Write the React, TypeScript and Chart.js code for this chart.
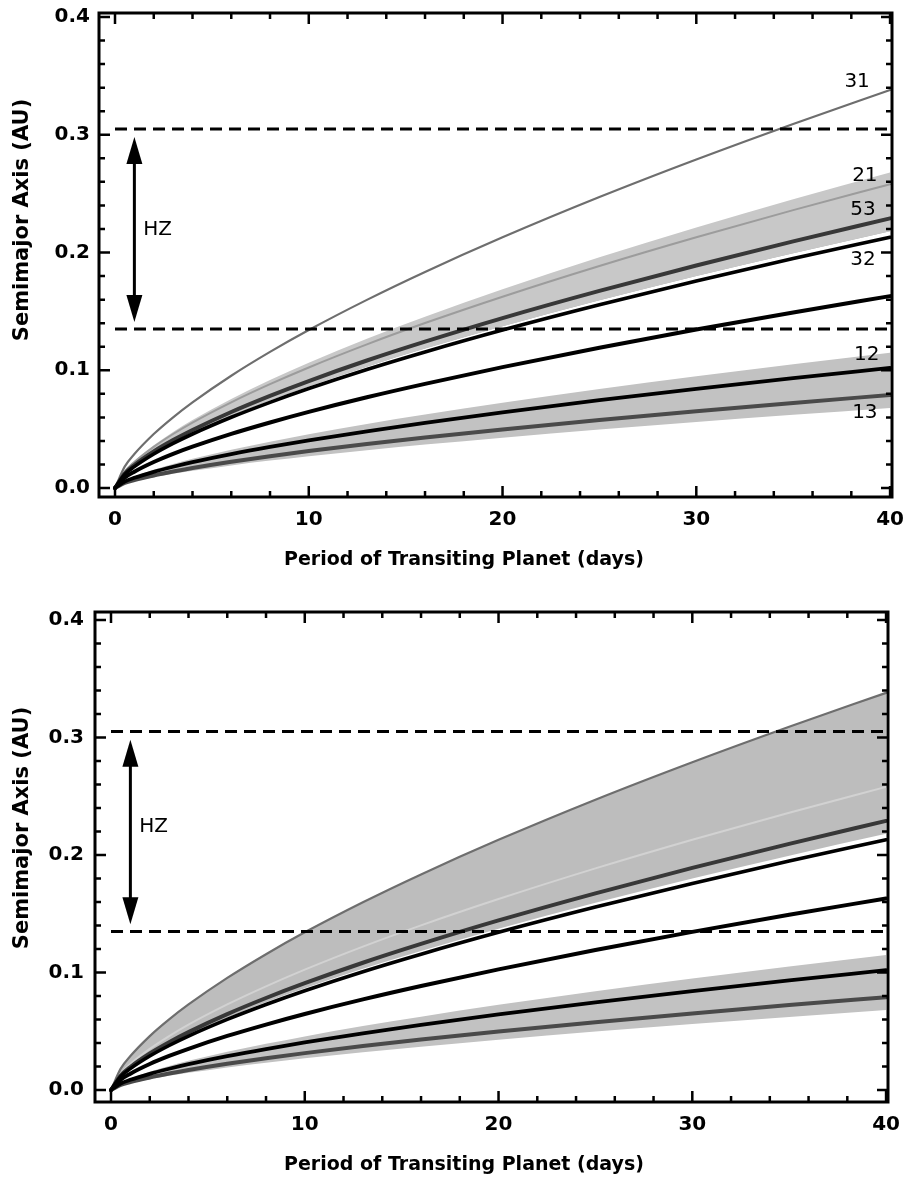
import React, { useEffect, useRef } from "react";
import { Chart, registerables } from "chart.js";

Chart.register(...registerables);

// ---------- data ----------
const PERIODS = [0, 0.5, 1, 2, 3, 4, 6, 8, 10, 13, 16, 20, 25, 30, 35, 40];

const A_31 = [0, 0.0182, 0.0289, 0.0459, 0.0601, 0.0728, 0.0954, 0.1156, 0.1342, 0.1598, 0.1835, 0.2129, 0.2471, 0.279, 0.3092, 0.338];
const A_21 = [0, 0.0139, 0.0221, 0.035, 0.0459, 0.0556, 0.0728, 0.0882, 0.1024, 0.122, 0.1401, 0.1625, 0.1886, 0.213, 0.236, 0.258];
const A_53 = [0, 0.0123, 0.0196, 0.0311, 0.0407, 0.0493, 0.0646, 0.0783, 0.0909, 0.1083, 0.1243, 0.1443, 0.1674, 0.189, 0.2095, 0.229];
const A_32 = [0, 0.0115, 0.0182, 0.0289, 0.0379, 0.0459, 0.0601, 0.0728, 0.0845, 0.1007, 0.1156, 0.1342, 0.1557, 0.1758, 0.1949, 0.213];
const A_MID = [0, 0.0088, 0.0139, 0.0221, 0.029, 0.0351, 0.046, 0.0557, 0.0647, 0.0771, 0.0885, 0.1027, 0.1192, 0.1346, 0.1491, 0.163];
const A_12 = [0, 0.0055, 0.0087, 0.0138, 0.0181, 0.022, 0.0288, 0.0349, 0.0405, 0.0482, 0.0554, 0.0643, 0.0746, 0.0842, 0.0933, 0.102];
const A_13 = [0, 0.0043, 0.0068, 0.0107, 0.014, 0.017, 0.0223, 0.027, 0.0314, 0.0374, 0.0429, 0.0498, 0.0577, 0.0652, 0.0723, 0.079];

const BAND_HI_TOP = [0, 0.0144, 0.0229, 0.0364, 0.0477, 0.0577, 0.0757, 0.0917, 0.1064, 0.1267, 0.1455, 0.1688, 0.1959, 0.2212, 0.2452, 0.268];
const BAND_HI_BOT = [0, 0.0118, 0.0186, 0.0296, 0.0388, 0.047, 0.0615, 0.0746, 0.0865, 0.1031, 0.1184, 0.1373, 0.1594, 0.18, 0.1994, 0.218];
const BAND_LO_TOP = [0, 0.0062, 0.0098, 0.0156, 0.0204, 0.0248, 0.0325, 0.0393, 0.0456, 0.0544, 0.0624, 0.0725, 0.0841, 0.0949, 0.1052, 0.115];
const BAND_LO_BOT = [0, 0.0037, 0.0058, 0.0092, 0.0121, 0.0146, 0.0192, 0.0233, 0.027, 0.0322, 0.0369, 0.0428, 0.0497, 0.0561, 0.0622, 0.068];

const HZ_OUTER = 0.305;
const HZ_INNER = 0.135;
const HZ_LINE_X = [0, 40];
const HZ_ARROW = { x: 1.0, top: 0.298, bottom: 0.141 };
const HZ_TEXT = { text: "HZ", x: 2.2 };

const X_TICKS = [0, 10, 20, 30, 40];
const X_MINOR = [2, 4, 6, 8, 12, 14, 16, 18, 22, 24, 26, 28, 32, 34, 36, 38];
const Y_TICKS = [0, 0.1, 0.2, 0.3, 0.4];
const Y_MINOR = [0.02, 0.04, 0.06, 0.08, 0.12, 0.14, 0.16, 0.18, 0.22, 0.24, 0.26, 0.28, 0.32, 0.34, 0.36, 0.38];

const CURVE_LABELS = [
  { text: "31", x: 38.3, y: 0.345 },
  { text: "21", x: 38.7, y: 0.265 },
  { text: "53", x: 38.6, y: 0.236 },
  { text: "32", x: 38.6, y: 0.194 },
  { text: "12", x: 38.8, y: 0.113 },
  { text: "13", x: 38.7, y: 0.064 },
];

const X_TITLE = "Period of Transiting Planet (days)";
const Y_TITLE = "Semimajor Axis (AU)";

// ---------- layout ----------
const W = 906;
const H = 590;

type Cfg = {
  area: { left: number; right: number; top: number; bottom: number };
  yMin: number;
  yMax: number;
  xTitleY: number;
  yTitleY: number;
  hzY: number;
  lower: boolean;
  yPad: number;
};

const X_MIN = -0.826;
const X_MAX = 40.1;

const TOP_CFG: Cfg = {
  area: { left: 99, right: 892, top: 13, bottom: 497 },
  yMin: -0.0076,
  yMax: 0.4034,
  xTitleY: 560,
  yTitleY: 220,
  hzY: 0.219,
  lower: false,
  yPad: 9,
};

const BOTTOM_CFG: Cfg = {
  area: { left: 95, right: 888, top: 22, bottom: 512 },
  yMin: -0.0102,
  yMax: 0.4068,
  xTitleY: 575,
  yTitleY: 238,
  hzY: 0.224,
  lower: true,
  yPad: 11,
};

const pts = (arr: number[]) => PERIODS.map((p, i) => ({ x: p, y: arr[i] }));
const hidden = "rgba(0,0,0,0)";

function band(data: number[], target: number | false, color: string) {
  return {
    data: pts(data),
    borderColor: hidden,
    borderWidth: 0,
    backgroundColor: color,
    fill: target === false ? false : target,
    pointRadius: 0,
    cubicInterpolationMode: "monotone" as const,
  };
}

function curve(data: number[], color: string, width: number) {
  return {
    data: pts(data),
    borderColor: color,
    borderWidth: width,
    fill: false,
    pointRadius: 0,
    cubicInterpolationMode: "monotone" as const,
    borderCapStyle: "round" as const,
  };
}

function dashed(v: number) {
  return {
    data: HZ_LINE_X.map((x) => ({ x, y: v })),
    borderColor: "#000",
    borderWidth: 3,
    borderDash: [12, 7],
    fill: false,
    pointRadius: 0,
  };
}

function buildDatasets(lower: boolean) {
  const curves = [
    curve(A_12, "#000000", 3.8),
    curve(A_13, "#4a4a4a", 4),
    curve(A_MID, "#000000", 4),
    curve(A_32, "#000000", 3.6),
    curve(A_53, "#383838", 4),
    curve(A_21, lower ? "#d2d2d2" : "#9c9c9c", 2),
    curve(A_31, "#6e6e6e", 2.2),
  ];
  const lines = [dashed(HZ_OUTER), dashed(HZ_INNER)];
  const base = curves.length + lines.length;
  let bands: any[];
  if (!lower) {
    bands = [
      band(BAND_HI_TOP, base + 1, "#c8c8c8"),
      band(BAND_HI_BOT, false, hidden),
      band(A_21, base + 1, "#ababab"),
      band(BAND_LO_TOP, base + 4, "#c2c2c2"),
      band(BAND_LO_BOT, false, hidden),
    ];
  } else {
    bands = [
      band(A_31, base + 1, "#bdbdbd"),
      band(BAND_HI_BOT, false, hidden),
      band(BAND_LO_TOP, base + 3, "#c2c2c2"),
      band(BAND_LO_BOT, false, hidden),
    ];
  }
  return [...lines, ...curves, ...bands];
}

function makeDecor(cfg: Cfg) {
  return {
    id: "decor",
    afterDraw(chart: any) {
      const { ctx, chartArea: a } = chart;
      const x = chart.scales.x;
      const y = chart.scales.y;
      ctx.save();
      ctx.strokeStyle = "#000";
      ctx.fillStyle = "#000";
      ctx.lineCap = "butt";

      // inward ticks on all four sides
      ctx.lineWidth = 2.5;
      const xt = (v: number, len: number) => {
        const px = x.getPixelForValue(v);
        ctx.beginPath();
        ctx.moveTo(px, a.bottom);
        ctx.lineTo(px, a.bottom - len);
        ctx.moveTo(px, a.top);
        ctx.lineTo(px, a.top + len);
        ctx.stroke();
      };
      const yt = (v: number, len: number) => {
        const py = y.getPixelForValue(v);
        ctx.beginPath();
        ctx.moveTo(a.left, py);
        ctx.lineTo(a.left + len, py);
        ctx.moveTo(a.right, py);
        ctx.lineTo(a.right - len, py);
        ctx.stroke();
      };
      X_TICKS.forEach((v) => xt(v, 11));
      X_MINOR.forEach((v) => xt(v, 6));
      Y_TICKS.forEach((v) => yt(v, 11));
      Y_MINOR.forEach((v) => yt(v, 6));

      // frame
      ctx.lineWidth = 3;
      ctx.strokeRect(a.left, a.top, a.right - a.left, a.bottom - a.top);

      // HZ double arrow
      const ax = x.getPixelForValue(HZ_ARROW.x);
      const at = y.getPixelForValue(HZ_ARROW.top);
      const ab = y.getPixelForValue(HZ_ARROW.bottom);
      ctx.lineWidth = 3;
      ctx.beginPath();
      ctx.moveTo(ax, at + 20);
      ctx.lineTo(ax, ab - 20);
      ctx.stroke();
      ctx.beginPath();
      ctx.moveTo(ax, at);
      ctx.lineTo(ax - 8, at + 27);
      ctx.lineTo(ax + 8, at + 27);
      ctx.closePath();
      ctx.fill();
      ctx.beginPath();
      ctx.moveTo(ax, ab);
      ctx.lineTo(ax - 8, ab - 27);
      ctx.lineTo(ax + 8, ab - 27);
      ctx.closePath();
      ctx.fill();

      ctx.font = '20px "DejaVu Sans"';
      ctx.textAlign = "center";
      ctx.textBaseline = "middle";
      ctx.fillText(HZ_TEXT.text, x.getPixelForValue(HZ_TEXT.x), y.getPixelForValue(cfg.hzY));

      if (!cfg.lower) {
        CURVE_LABELS.forEach((l) => {
          ctx.fillText(l.text, x.getPixelForValue(l.x), y.getPixelForValue(l.y));
        });
      }

      // axis titles
      ctx.font = 'bold 19px "DejaVu Sans"';
      ctx.fillText(X_TITLE, 464, cfg.xTitleY);
      ctx.save();
      ctx.translate(23, cfg.yTitleY);
      ctx.rotate(-Math.PI / 2);
      ctx.font = 'bold 21px "DejaVu Sans"';
      ctx.fillText(Y_TITLE, 0, 0);
      ctx.restore();

      ctx.restore();
    },
  };
}

const zeroPad = (s: any) => {
  s.paddingTop = 0;
  s.paddingBottom = 0;
  s.paddingLeft = 0;
  s.paddingRight = 0;
};

function Panel({ cfg, top }: { cfg: Cfg; top: number }) {
  const ref = useRef<HTMLCanvasElement | null>(null);
  useEffect(() => {
    if (!ref.current) return;
    const tickFont = { family: "DejaVu Sans", weight: "bold" as const, size: 20 };
    const chart = new Chart(ref.current, {
      type: "line",
      data: { datasets: buildDatasets(cfg.lower) as any },
      options: {
        responsive: false,
        animation: false,
        devicePixelRatio: 1,
        layout: { padding: { left: 0, top: cfg.area.top, right: W - cfg.area.right, bottom: 0 } },
        plugins: {
          legend: { display: false },
          tooltip: { enabled: false },
          filler: { drawTime: "beforeDatasetsDraw" },
        } as any,
        scales: {
          x: {
            type: "linear",
            min: X_MIN,
            max: X_MAX,
            grid: { display: false, drawTicks: false },
            border: { display: false },
            ticks: {
              font: tickFont,
              color: "#000",
              padding: 11,
              maxRotation: 0,
              autoSkip: false,
              callback: (v: any) => String(v),
            },
            afterBuildTicks: (s: any) => {
              s.ticks = X_TICKS.map((v) => ({ value: v }));
            },
            afterFit: (s: any) => {
              s.height = H - cfg.area.bottom;
              zeroPad(s);
            },
          },
          y: {
            type: "linear",
            min: cfg.yMin,
            max: cfg.yMax,
            grid: { display: false, drawTicks: false },
            border: { display: false },
            ticks: {
              font: tickFont,
              color: "#000",
              padding: cfg.yPad,
              autoSkip: false,
              callback: (v: any) => Number(v).toFixed(1),
            },
            afterBuildTicks: (s: any) => {
              s.ticks = Y_TICKS.map((v) => ({ value: v }));
            },
            afterFit: (s: any) => {
              s.width = cfg.area.left;
              zeroPad(s);
            },
          },
        },
      },
      plugins: [makeDecor(cfg)],
    });
    return () => chart.destroy();
  }, [cfg]);
  return (
    <canvas
      ref={ref}
      width={W}
      height={H}
      style={{ position: "absolute", left: 0, top, width: W, height: H }}
    />
  );
}

export default function App() {
  return (
    <div style={{ position: "absolute", left: 0, top: 0, width: W, height: 2 * H, background: "#fff" }}>
      <Panel cfg={TOP_CFG} top={0} />
      <Panel cfg={BOTTOM_CFG} top={H} />
    </div>
  );
}
